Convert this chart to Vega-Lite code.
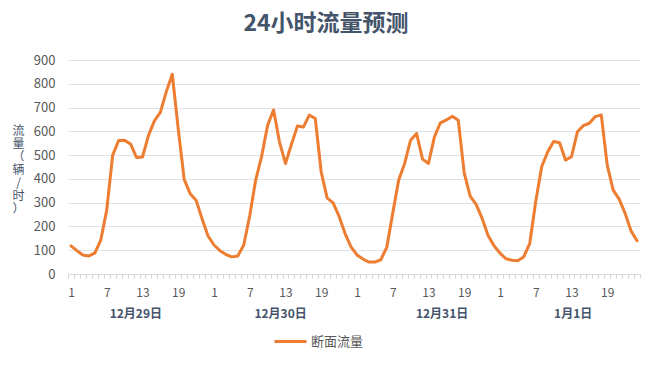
{
  "$schema": "https://vega.github.io/schema/vega-lite/v6.json",
  "width": 572,
  "height": 214,
  "autosize": {"type": "none"},
  "padding": {"left": 68, "top": 60, "right": 15, "bottom": 97},
  "background": "#ffffff",
  "title": {
    "text": "24小时流量预测",
    "font": "Noto Sans CJK SC",
    "fontSize": 23,
    "fontWeight": "bold",
    "color": "#44546A",
    "anchor": "middle",
    "dx": -28,
    "offset": 18
  },
  "config": {
    "view": {"stroke": null},
    "font": "Noto Sans CJK SC"
  },
  "data": {
    "values": [
      {"i":0,"v":118,"s":"断面流量"},{"i":1,"v":98,"s":"断面流量"},{"i":2,"v":80,"s":"断面流量"},{"i":3,"v":76,"s":"断面流量"},
      {"i":4,"v":88,"s":"断面流量"},{"i":5,"v":142,"s":"断面流量"},{"i":6,"v":269,"s":"断面流量"},{"i":7,"v":500,"s":"断面流量"},
      {"i":8,"v":561,"s":"断面流量"},{"i":9,"v":562,"s":"断面流量"},{"i":10,"v":547,"s":"断面流量"},{"i":11,"v":490,"s":"断面流量"},
      {"i":12,"v":492,"s":"断面流量"},{"i":13,"v":582,"s":"断面流量"},{"i":14,"v":644,"s":"断面流量"},{"i":15,"v":680,"s":"断面流量"},
      {"i":16,"v":767,"s":"断面流量"},{"i":17,"v":840,"s":"断面流量"},{"i":18,"v":610,"s":"断面流量"},{"i":19,"v":398,"s":"断面流量"},
      {"i":20,"v":338,"s":"断面流量"},{"i":21,"v":310,"s":"断面流量"},{"i":22,"v":232,"s":"断面流量"},{"i":23,"v":160,"s":"断面流量"},
      {"i":24,"v":122,"s":"断面流量"},{"i":25,"v":98,"s":"断面流量"},{"i":26,"v":82,"s":"断面流量"},{"i":27,"v":72,"s":"断面流量"},
      {"i":28,"v":76,"s":"断面流量"},{"i":29,"v":122,"s":"断面流量"},{"i":30,"v":245,"s":"断面流量"},{"i":31,"v":395,"s":"断面流量"},
      {"i":32,"v":495,"s":"断面流量"},{"i":33,"v":625,"s":"断面流量"},{"i":34,"v":690,"s":"断面流量"},{"i":35,"v":555,"s":"断面流量"},
      {"i":36,"v":465,"s":"断面流量"},{"i":37,"v":545,"s":"断面流量"},{"i":38,"v":622,"s":"断面流量"},{"i":39,"v":618,"s":"断面流量"},
      {"i":40,"v":668,"s":"断面流量"},{"i":41,"v":654,"s":"断面流量"},{"i":42,"v":428,"s":"断面流量"},{"i":43,"v":319,"s":"断面流量"},
      {"i":44,"v":299,"s":"断面流量"},{"i":45,"v":242,"s":"断面流量"},{"i":46,"v":170,"s":"断面流量"},{"i":47,"v":114,"s":"断面流量"},
      {"i":48,"v":80,"s":"断面流量"},{"i":49,"v":63,"s":"断面流量"},{"i":50,"v":50,"s":"断面流量"},{"i":51,"v":50,"s":"断面流量"},
      {"i":52,"v":60,"s":"断面流量"},{"i":53,"v":112,"s":"断面流量"},{"i":54,"v":255,"s":"断面流量"},{"i":55,"v":395,"s":"断面流量"},
      {"i":56,"v":465,"s":"断面流量"},{"i":57,"v":563,"s":"断面流量"},{"i":58,"v":591,"s":"断面流量"},{"i":59,"v":483,"s":"断面流量"},
      {"i":60,"v":465,"s":"断面流量"},{"i":61,"v":577,"s":"断面流量"},{"i":62,"v":636,"s":"断面流量"},{"i":63,"v":648,"s":"断面流量"},
      {"i":64,"v":663,"s":"断面流量"},{"i":65,"v":647,"s":"断面流量"},{"i":66,"v":424,"s":"断面流量"},{"i":67,"v":327,"s":"断面流量"},
      {"i":68,"v":293,"s":"断面流量"},{"i":69,"v":234,"s":"断面流量"},{"i":70,"v":162,"s":"断面流量"},{"i":71,"v":119,"s":"断面流量"},
      {"i":72,"v":88,"s":"断面流量"},{"i":73,"v":64,"s":"断面流量"},{"i":74,"v":58,"s":"断面流量"},{"i":75,"v":56,"s":"断面流量"},
      {"i":76,"v":73,"s":"断面流量"},{"i":77,"v":129,"s":"断面流量"},{"i":78,"v":305,"s":"断面流量"},{"i":79,"v":451,"s":"断面流量"},
      {"i":80,"v":513,"s":"断面流量"},{"i":81,"v":557,"s":"断面流量"},{"i":82,"v":552,"s":"断面流量"},{"i":83,"v":479,"s":"断面流量"},
      {"i":84,"v":493,"s":"断面流量"},{"i":85,"v":598,"s":"断面流量"},{"i":86,"v":624,"s":"断面流量"},{"i":87,"v":634,"s":"断面流量"},
      {"i":88,"v":662,"s":"断面流量"},{"i":89,"v":669,"s":"断面流量"},{"i":90,"v":458,"s":"断面流量"},{"i":91,"v":353,"s":"断面流量"},
      {"i":92,"v":315,"s":"断面流量"},{"i":93,"v":255,"s":"断面流量"},{"i":94,"v":181,"s":"断面流量"},{"i":95,"v":140,"s":"断面流量"}
    ]
  },
  "mark": {"type": "line", "strokeWidth": 3, "interpolate": "linear", "strokeJoin": "round", "strokeCap": "round"},
  "encoding": {
    "x": {
      "field": "i",
      "type": "quantitative",
      "scale": {"domain": [-0.5, 95.5], "nice": false, "zero": false},
      "axis": {
        "title": null,
        "grid": false,
        "domainColor": "#d9d9d9",
        "domainWidth": 1,
        "tickColor": "#d0d4da",
        "tickSize": 4,
        "tickOpacity": {"condition": {"test": "abs(datum.value % 1) == 0.5", "value": 1}, "value": 0},
        "labelOverlap": false,
        "labelFlush": false,
        "labelBound": false,
        "labelFont": "Noto Sans CJK SC",
        "labelFontSize": 12,
        "labelColor": {"condition": {"test": "datum.value % 1 != 0 && abs(datum.value % 1) != 0.5", "value": "#44546A"}, "value": "#595959"},
        "labelFontWeight": {"condition": {"test": "datum.value % 1 != 0 && abs(datum.value % 1) != 0.5", "value": "bold"}, "value": "normal"},
        "labelPadding": {"condition": {"test": "datum.value % 1 != 0 && abs(datum.value % 1) != 0.5", "value": 30}, "value": 9},
        "values": [-0.5,0.5,1.5,2.5,3.5,4.5,5.5,6.5,7.5,8.5,9.5,10.5,11.5,12.5,13.5,14.5,15.5,16.5,17.5,18.5,19.5,20.5,21.5,22.5,23.5,24.5,25.5,26.5,27.5,28.5,29.5,30.5,31.5,32.5,33.5,34.5,35.5,36.5,37.5,38.5,39.5,40.5,41.5,42.5,43.5,44.5,45.5,46.5,47.5,48.5,49.5,50.5,51.5,52.5,53.5,54.5,55.5,56.5,57.5,58.5,59.5,60.5,61.5,62.5,63.5,64.5,65.5,66.5,67.5,68.5,69.5,70.5,71.5,72.5,73.5,74.5,75.5,76.5,77.5,78.5,79.5,80.5,81.5,82.5,83.5,84.5,85.5,86.5,87.5,88.5,89.5,90.5,91.5,92.5,93.5,94.5,95.5,0,6,12,18,24,30,36,42,48,54,60,66,72,78,84,90,10.8,35.1,62.2,84.2],
        "labelExpr": "datum.value == 10.8 ? '12月29日' : datum.value == 35.1 ? '12月30日' : datum.value == 62.2 ? '12月31日' : datum.value == 84.2 ? '1月1日' : (datum.value % 6 == 0 ? toString(datum.value % 24 + 1) : '')"
      }
    },
    "y": {
      "field": "v",
      "type": "quantitative",
      "scale": {"domain": [0, 900], "nice": false},
      "axis": {
        "values": [0,100,200,300,400,500,600,700,800,900],
        "domain": false,
        "ticks": false,
        "grid": true,
        "gridColor": "#dfe2e7",
        "gridWidth": 1,
        "labelFont": "Noto Sans CJK SC",
        "labelFontSize": 13,
        "labelColor": "#595959",
        "labelPadding": 13,
        "title": ["流","量","（","辆","/","时","）"],
        "titleAngle": 0,
        "titleFont": "Noto Sans CJK SC",
        "titleFontSize": 12,
        "titleFontWeight": "normal",
        "titleColor": "#44546A",
        "titleLineHeight": 13,
        "titleAlign": "center",
        "titleBaseline": "middle",
        "titleX": -50,
        "titleY": 70
      }
    },
    "color": {
      "field": "s",
      "type": "nominal",
      "scale": {"range": ["#ED7D31"]},
      "legend": {
        "title": null,
        "orient": "none",
        "legendX": 205,
        "legendY": 264,
        "padding": 0,
        "symbolType": "stroke",
        "symbolSize": 1024,
        "symbolStrokeWidth": 3,
        "labelFont": "Noto Sans CJK SC",
        "labelFontSize": 13,
        "labelColor": "#595959",
        "labelOffset": 3
      }
    }
  }
}
